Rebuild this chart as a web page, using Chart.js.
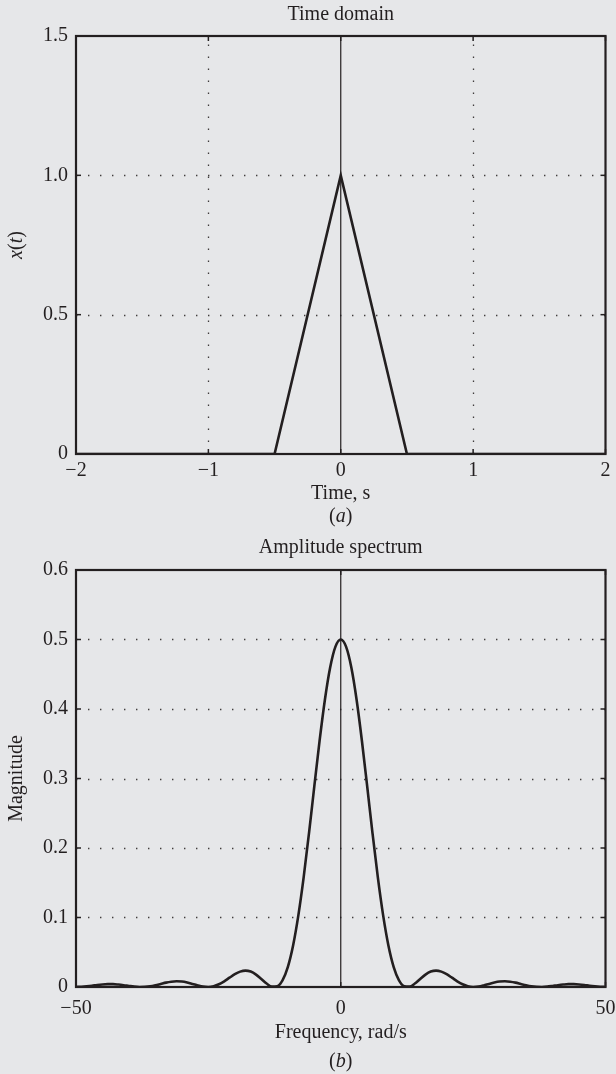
<!DOCTYPE html>
<html>
<head>
<meta charset="utf-8">
<script src="https://cdn.jsdelivr.net/npm/chart.js@4.4.1/dist/chart.umd.min.js"></script>
<style>
  html, body { margin: 0; padding: 0; background: #e6e7e9; }
  body { width: 616px; height: 1074px; position: relative; overflow: hidden; }
  canvas { position: absolute; left: 0; }
  #c1 { top: 0; }
  #c2 { top: 530px; }
</style>
</head>
<body>
<canvas id="c1" width="616" height="530"></canvas>
<canvas id="c2" width="616" height="544"></canvas>
<script>
// ---------- DATA ----------
const timeX = [-2, -0.5, 0, 0.5, 2];
const timeY = [0, 0, 1, 0, 0];
const timeXTicks = [-2, -1, 0, 1, 2];
const timeXTickLabels = ['\u22122', '\u22121', '0', '1', '2'];
const timeYTicks = [0, 0.5, 1, 1.5];
const timeYTickLabels = ['0', '0.5', '1.0', '1.5'];

const specX = [-50,-49,-48,-47,-46,-45,-44,-43,-42,-41,-40,-39,-38,-37,-36,-35,-34,-33,-32,-31,-30,-29,-28,-27,-26,-25,-24,-23,-22,-21,-20,-19,-18,-17,-16,-15,-14,-13,-12,-11,-10,-9,-8,-7,-6,-5,-4,-3,-2,-1,0,1,2,3,4,5,6,7,8,9,10,11,12,13,14,15,16,17,18,19,20,21,22,23,24,25,26,27,28,29,30,31,32,33,34,35,36,37,38,39,40,41,42,43,44,45,46,47,48,49,50];
const specY = [
  0.0000,0.0004,0.0010,0.0018,0.0029,0.0037,0.0041,0.0041,0.0035,0.0026,
  0.0015,0.0005,0.0000,0.0002,0.0010,0.0025,0.0044,0.0063,0.0076,0.0082,
  0.0078,0.0064,0.0044,0.0022,0.0005,0.0000,0.0011,0.0039,0.0082,0.0134,
  0.0184,0.0221,0.0236,0.0222,0.0179,0.0116,0.0050,0.0006,0.0011,0.0096,
  0.0287,0.0598,0.1034,0.1581,0.2211,0.2882,0.3540,0.4130,0.4597,0.4897,
  0.5000,
  0.4897,0.4597,0.4130,0.3540,0.2882,0.2211,0.1581,0.1034,0.0598,0.0287,
  0.0096,0.0011,0.0006,0.0050,0.0116,0.0179,0.0222,0.0236,0.0221,0.0184,
  0.0134,0.0082,0.0039,0.0011,0.0000,0.0005,0.0022,0.0044,0.0064,0.0078,
  0.0082,0.0076,0.0063,0.0044,0.0025,0.0010,0.0002,0.0000,0.0005,0.0015,
  0.0026,0.0035,0.0041,0.0041,0.0037,0.0029,0.0018,0.0010,0.0004,0.0000
];
const specXTicks = [-50, 0, 50];
const specXTickLabels = ['\u221250', '0', '50'];
const specYTicks = [0, 0.1, 0.2, 0.3, 0.4, 0.5, 0.6];
const specYTickLabels = ['0', '0.1', '0.2', '0.3', '0.4', '0.5', '0.6'];

// ---------- STYLE ----------
const INK = '#231f20';
const FONT = '"Liberation Serif", "Times New Roman", serif';
const FS = 20;

function drawMixed(ctx, parts, x, y, align) {
  let total = 0;
  const widths = parts.map(p => {
    ctx.font = (p.i ? 'italic ' : '') + FS + 'px ' + FONT;
    const w = ctx.measureText(p.t).width;
    total += w;
    return w;
  });
  let cx = align === 'center' ? x - total / 2 : x;
  ctx.textAlign = 'left';
  ctx.textBaseline = 'alphabetic';
  parts.forEach((p, k) => {
    ctx.font = (p.i ? 'italic ' : '') + FS + 'px ' + FONT;
    ctx.fillText(p.t, cx, y);
    cx += widths[k];
  });
}

function makePlugin(cfg) {
  return {
    id: 'deco',
    beforeDatasetsDraw(chart) {
      const ctx = chart.ctx;
      const a = chart.chartArea;
      const xs = chart.scales.x, ys = chart.scales.y;
      ctx.save();
      ctx.strokeStyle = 'rgba(35,31,32,0.85)';
      ctx.lineWidth = 1.3;
      ctx.setLineDash([1.4, 10.6]);
      cfg.xGrid.forEach(v => {
        const px = Math.round(xs.getPixelForValue(v)) + 0.5;
        ctx.beginPath(); ctx.moveTo(px, a.bottom); ctx.lineTo(px, a.top); ctx.stroke();
      });
      cfg.yGrid.forEach(v => {
        const py = Math.round(ys.getPixelForValue(v)) + 0.5;
        ctx.beginPath(); ctx.moveTo(a.left, py); ctx.lineTo(a.right, py); ctx.stroke();
      });
      ctx.restore();
    },
    afterDatasetsDraw(chart) {
      const ctx = chart.ctx;
      const a = chart.chartArea;
      const xs = chart.scales.x, ys = chart.scales.y;
      ctx.save();
      ctx.strokeStyle = INK;
      ctx.lineWidth = 1.5;
      const tl = 5;
      cfg.xTicks.forEach(v => {
        const px = xs.getPixelForValue(v);
        ctx.beginPath(); ctx.moveTo(px, a.bottom); ctx.lineTo(px, a.bottom - tl); ctx.stroke();
        ctx.beginPath(); ctx.moveTo(px, a.top); ctx.lineTo(px, a.top + tl); ctx.stroke();
      });
      cfg.yTicks.forEach(v => {
        const py = ys.getPixelForValue(v);
        ctx.beginPath(); ctx.moveTo(a.left, py); ctx.lineTo(a.left + tl, py); ctx.stroke();
        ctx.beginPath(); ctx.moveTo(a.right, py); ctx.lineTo(a.right - tl, py); ctx.stroke();
      });
      ctx.lineWidth = 2.2;
      ctx.strokeRect(a.left, a.top, a.right - a.left, a.bottom - a.top);
      ctx.restore();
    },
    afterDraw(chart) {
      const ctx = chart.ctx;
      const a = chart.chartArea;
      const cx = (a.left + a.right) / 2;
      ctx.save();
      ctx.fillStyle = INK;
      drawMixed(ctx, [{ t: cfg.title }], cx, a.top - cfg.titleGap, 'center');
      drawMixed(ctx, [{ t: cfg.xTitle }], cx, a.bottom + cfg.xTitleGap, 'center');
      drawMixed(ctx, [{ t: '(' }, { t: cfg.panel, i: true }, { t: ')' }], cx, a.bottom + cfg.panelGap, 'center');
      ctx.translate(cfg.yTitleX, (a.top + a.bottom) / 2);
      ctx.rotate(-Math.PI / 2);
      drawMixed(ctx, cfg.yTitle, 0, 0, 'center');
      ctx.restore();
    }
  };
}

function makeChart(id, o) {
  const ticksFont = { family: FONT, size: FS };
  return new Chart(document.getElementById(id), {
    type: 'line',
    data: {
      datasets: [
        {
          data: o.zeroLine,
          borderColor: INK, borderWidth: 1.2, pointRadius: 0, tension: 0, fill: false
        },
        {
          data: o.xs.map((x, k) => ({ x: x, y: o.ys[k] })),
          borderColor: INK, borderWidth: 2.6, pointRadius: 0,
          cubicInterpolationMode: o.smooth ? 'monotone' : 'default',
          tension: 0, fill: false, borderJoinStyle: 'miter'
        }
      ]
    },
    options: {
      responsive: false,
      devicePixelRatio: 1,
      animation: false,
      events: [],
      layout: { padding: { top: o.padTop, right: 10.5, bottom: 0, left: 0 } },
      plugins: { legend: { display: false }, tooltip: { enabled: false }, title: { display: false } },
      scales: {
        x: {
          type: 'linear', min: o.xMin, max: o.xMax,
          afterBuildTicks: s => { s.ticks = o.xTicks.map(v => ({ value: v })); },
          afterFit: s => { s.height = o.xHeight; s.paddingLeft = 0; s.paddingRight = 0; },
          ticks: {
            callback: (v, i) => o.xTickLabels[i],
            font: ticksFont, color: INK, padding: o.xPad,
            maxRotation: 0, minRotation: 0, autoSkip: false
          },
          grid: { display: false, drawTicks: false },
          border: { display: false }
        },
        y: {
          type: 'linear', min: o.yMin, max: o.yMax,
          afterBuildTicks: s => { s.ticks = o.yTicks.map(v => ({ value: v })); },
          afterFit: s => { s.width = 76; s.paddingTop = 0; s.paddingBottom = 0; },
          ticks: {
            callback: (v, i) => o.yTickLabels[i],
            font: ticksFont, color: INK, padding: 8, autoSkip: false
          },
          grid: { display: false, drawTicks: false },
          border: { display: false }
        }
      }
    },
    plugins: [makePlugin(o.deco)]
  });
}

makeChart('c1', {
  xs: timeX, ys: timeY, smooth: false,
  zeroLine: [{ x: 0, y: 0 }, { x: 0, y: 1.5 }],
  xMin: -2, xMax: 2, yMin: 0, yMax: 1.5,
  xTicks: timeXTicks, xTickLabels: timeXTickLabels,
  yTicks: timeYTicks, yTickLabels: timeYTickLabels,
  padTop: 36, xHeight: 76, xPad: 5,
  deco: {
    xGrid: [-1, 1], yGrid: [0.5, 1],
    xTicks: timeXTicks, yTicks: timeYTicks,
    title: 'Time domain', titleGap: 16,
    xTitle: 'Time, s', xTitleGap: 45,
    panel: 'a', panelGap: 68,
    yTitleX: 22,
    yTitle: [{ t: 'x', i: true }, { t: '(' }, { t: 't', i: true }, { t: ')' }]
  }
});

makeChart('c2', {
  xs: specX, ys: specY, smooth: true,
  zeroLine: [{ x: 0, y: 0 }, { x: 0, y: 0.6 }],
  xMin: -50, xMax: 50, yMin: 0, yMax: 0.6,
  xTicks: specXTicks, xTickLabels: specXTickLabels,
  yTicks: specYTicks, yTickLabels: specYTickLabels,
  padTop: 40, xHeight: 87, xPad: 10,
  deco: {
    xGrid: [], yGrid: [0.1, 0.2, 0.3, 0.4, 0.5],
    xTicks: specXTicks, yTicks: specYTicks,
    title: 'Amplitude spectrum', titleGap: 17,
    xTitle: 'Frequency, rad/s', xTitleGap: 51,
    panel: 'b', panelGap: 80,
    yTitleX: 22,
    yTitle: [{ t: 'Magnitude' }]
  }
});
</script>
</body>
</html>
